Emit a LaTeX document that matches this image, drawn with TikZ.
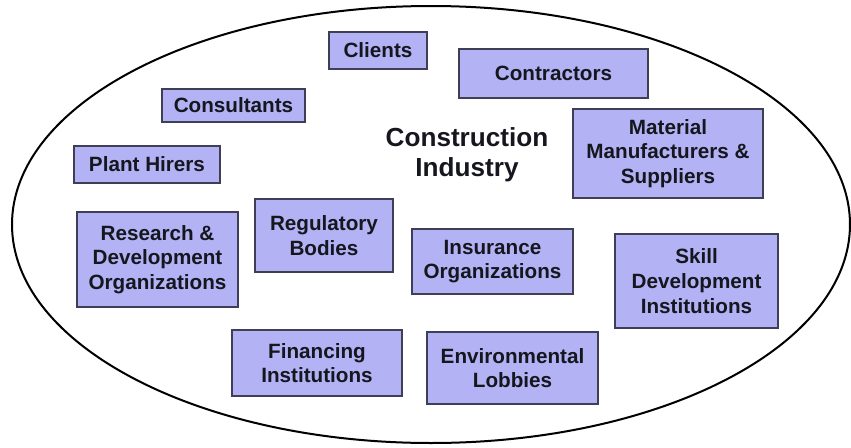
\documentclass[tikz,border=0pt]{standalone}
\usepackage{fontspec}
\setmainfont{Liberation Sans}
\definecolor{boxfill}{RGB}{178,178,244}
\definecolor{boxline}{RGB}{62,62,84}
\definecolor{inktext}{RGB}{22,22,30}
\tikzset{
  orgbox/.style={draw=boxline, fill=boxfill, line width=1.1pt, align=center,
    inner sep=0pt, text=inktext,
    font=\fontsize{15.5}{18.5}\selectfont\bfseries},
  title/.style={align=center, text=inktext,
    font=\fontsize{19.6}{22.5}\selectfont\bfseries},
}
\begin{document}
\begin{tikzpicture}[x=0.75pt, y=-0.75pt]
  \useasboundingbox (0,0) rectangle (851,447);
  % industry boundary
  \draw[line width=1.5pt, black] (431,224.5) ellipse [x radius=419, y radius=218.5];
  \node[title] (ci) at (467,155) {Construction\\Industry};
  % participants
  \node[orgbox, minimum width=98*0.75pt, minimum height=37*0.75pt] (cl) at (378,50.5) {Clients};
  \node[orgbox, minimum width=189*0.75pt, minimum height=49*0.75pt] (co) at (553.5,73.5) {Contractors};
  \node[orgbox, minimum width=143*0.75pt, minimum height=33*0.75pt] (cs) at (233.5,105.5) {Consultants};
  \node[orgbox, minimum width=146*0.75pt, minimum height=37*0.75pt] (ph) at (147,164.5) {Plant Hirers};
  \node[orgbox, minimum width=190*0.75pt, minimum height=89*0.75pt] (mm) at (668,153.5) {Material\\Manufacturers \&\\Suppliers};
  \node[orgbox, minimum width=161*0.75pt, minimum height=95*0.75pt] (rd) at (157.5,259.5) {Research \&\\Development\\Organizations};
  \node[orgbox, minimum width=138*0.75pt, minimum height=73*0.75pt] (rb) at (324,235.5) {Regulatory\\Bodies};
  \node[orgbox, minimum width=161*0.75pt, minimum height=65*0.75pt] (io) at (492.5,261.5) {Insurance\\Organizations};
  \node[orgbox, minimum width=163*0.75pt, minimum height=94*0.75pt] (sd) at (696.5,281) {Skill\\Development\\Institutions};
  \node[orgbox, minimum width=170*0.75pt, minimum height=66*0.75pt] (fi) at (317,363) {Financing\\Institutions};
  \node[orgbox, minimum width=171*0.75pt, minimum height=72*0.75pt] (el) at (512.5,368) {Environmental\\Lobbies};
\end{tikzpicture}
\end{document}
